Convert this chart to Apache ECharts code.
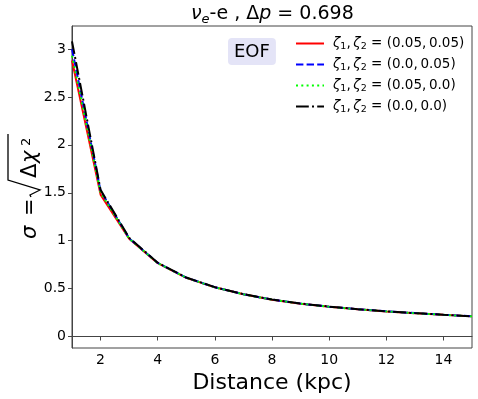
<!DOCTYPE html>
<html><head><meta charset="utf-8">
<script src="https://cdn.jsdelivr.net/npm/echarts@6/dist/echarts.min.js"></script>
<style>html,body{margin:0;padding:0;background:#fff}#c{width:478px;height:399px}</style>
</head><body><div id="c"></div>
<script>
const distances = [1,2,3,4,5,6,7,8,9,10,11,12,13,14,15];
const seriesNames = ['(0.05, 0.05)','(0.0, 0.05)','(0.05, 0.0)','(0.0, 0.0)'];
const sig_005_005 = [2.88,1.48,1.02,0.765,0.612,0.513,0.44,0.384,0.342,0.31,0.284,0.262,0.243,0.226,0.21];
const sig_00_005  = [3.00,1.52,1.025,0.768,0.614,0.514,0.441,0.385,0.343,0.311,0.285,0.263,0.244,0.227,0.211];
const sig_005_00  = [2.93,1.50,1.022,0.766,0.613,0.513,0.44,0.384,0.342,0.31,0.284,0.262,0.243,0.226,0.21];
const sig_00_00   = [3.08,1.53,1.03,0.77,0.615,0.515,0.442,0.386,0.344,0.312,0.285,0.263,0.244,0.227,0.211];
const xTicks = [2,4,6,8,10,12,14];
const yTicks = [0,0.5,1,1.5,2,2.5,3];

const colors = ['#ff0000','#0000ff','#00ff00','#000000'];
const dashes = ['solid',[7.4,3.2],[2,3.3],[12.8,3.2,2,3.2]];
const allData = [sig_005_005, sig_00_005, sig_005_00, sig_00_00];
const FF = 'DejaVu Sans';

const chart = echarts.init(document.getElementById('c'), null, {renderer:'canvas'});
const series = allData.map((d,i)=>({
  name: seriesNames[i], type:'line', data: distances.map((x,j)=>[x,d[j]]),
  showSymbol:false, symbol:'none', animation:false,
  lineStyle:{color:colors[i], width:2, type:dashes[i]}, itemStyle:{color:colors[i]}, z: 2+i
}));
const subRich = {
  t:{fontFamily:FF, fontSize:13.5, color:'#000', fontStyle:'italic'},
  n:{fontFamily:FF, fontSize:13.5, color:'#000'},
  s:{fontFamily:FF, fontSize:9.5, color:'#000', padding:[7,0,0,0]}
};
const TS = '\u2009';
chart.setOption({
  animation:false,
  title:{
    text:'{i|ν}{s|e}{n|-e , Δ}{i|p}{n| = 0.698}',
    left:191, top:3, padding:0,
    textStyle:{fontWeight:'normal', rich:{
      i:{fontFamily:FF,fontSize:19,fontStyle:'italic',fontWeight:'normal',color:'#000'},
      n:{fontFamily:FF,fontSize:19,fontWeight:'normal',color:'#000'},
      s:{fontFamily:FF,fontSize:13,fontStyle:'italic',fontWeight:'normal',color:'#000',padding:[10,0,0,0]}
    }}
  },
  grid:{left:72, right:6, top:26, bottom:51, show:true, borderColor:'#444', borderWidth:1, backgroundColor:'#fff'},
  legend:{
    left:295, top:35, padding:0, orient:'vertical', itemWidth:28, itemHeight:12, itemGap:4,
    data:seriesNames,
    itemStyle:{opacity:0},
    formatter: n => '{t|ζ}{s|1}{n|,'+TS+'}{t|ζ}{s|2}{n| = '+n.replace(', ', ','+TS)+'}',
    textStyle:{padding:[0,0,0,4], lineHeight:17, rich:subRich}
  },
  xAxis:{
    type:'value', min:1, max:15,
    axisLine:{show:true, lineStyle:{color:'#444'}},
    axisTick:{show:true, customValues:xTicks, length:4, lineStyle:{color:'#444'}},
    axisLabel:{customValues:xTicks, fontFamily:FF, fontSize:14, color:'#000', margin:5},
    splitLine:{show:false},
    name:'Distance (kpc)', nameLocation:'middle', nameGap:19,
    nameTextStyle:{fontFamily:FF, fontSize:22, color:'#000'}
  },
  yAxis:{
    type:'value', min:-0.12, max:3.24,
    axisLine:{show:true, lineStyle:{color:'#444'}},
    axisTick:{show:true, customValues:yTicks, length:4, lineStyle:{color:'#444'}},
    axisLabel:{customValues:yTicks, fontFamily:FF, fontSize:14, color:'#000', margin:6},
    splitLine:{show:false}
  },
  graphic:[{
    type:'text', left:228, top:38, z:100,
    style:{text:'EOF', fontFamily:FF, fontSize:18, fill:'#000',
      backgroundColor:'#e4e4f7', padding:[5,6,4,6], borderRadius:4}
  },{
    type:'group', x:25, y:187, rotation:Math.PI/2, z:100,
    children:[
      {type:'text', x:-52, y:16, style:{text:'σ', fontFamily:FF, fontSize:21, fontStyle:'italic', fill:'#000', verticalAlign:'bottom'}},
      {type:'text', x:-29, y:16, style:{text:'=', fontFamily:FF, fontSize:21, fill:'#000', verticalAlign:'bottom'}},
      {type:'polyline', shape:{points:[[-10,6],[-8,5],[-3,15],[7,-17],[53,-17]]}, style:{stroke:'#000', lineWidth:1.3, fill:null}},
      {type:'text', x:9, y:16, style:{text:'Δ', fontFamily:FF, fontSize:21, fill:'#000', verticalAlign:'bottom'}},
      {type:'text', x:24, y:16, style:{text:'χ', fontFamily:FF, fontSize:21, fontStyle:'italic', fill:'#000', verticalAlign:'bottom'}},
      {type:'text', x:41, y:8, style:{text:'2', fontFamily:FF, fontSize:13, fill:'#000', verticalAlign:'bottom'}}
    ]
  }],
  series: series
});
</script></body></html>
